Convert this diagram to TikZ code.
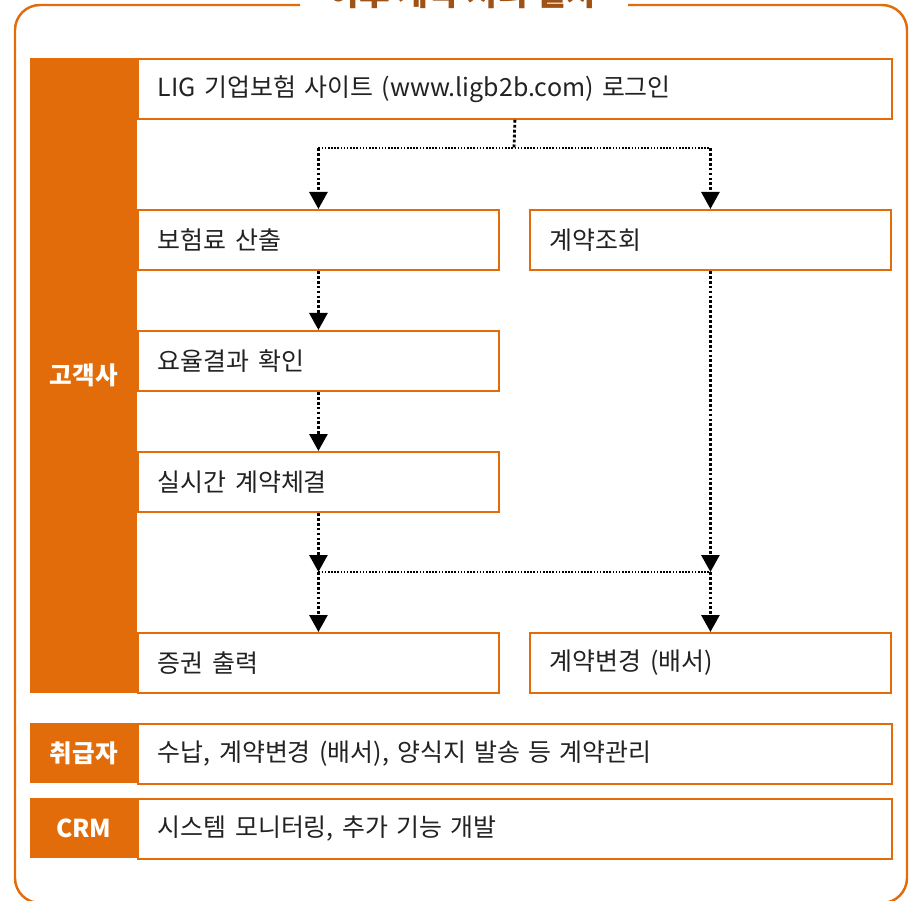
\documentclass[tikz,border=0pt]{standalone}
\usepackage{fontspec}
\setmainfont{Noto Sans CJK KR}
\usetikzlibrary{arrows.meta}
\definecolor{ligorange}{RGB}{227,108,10}
\definecolor{titlebrown}{RGB}{158,82,22}
\definecolor{textgray}{RGB}{34,34,34}
\tikzset{
  stepbox/.style={draw=ligorange, line width=1.1pt, fill=white, minimum height=1.2cm,
    inner xsep=0.4cm, inner ysep=0pt, align=left, anchor=north west, text=textgray,
    font=\fontsize{14.2}{16}\selectfont},
  widebox/.style={stepbox, text width=14.28cm},
  halfbox/.style={stepbox, text width=6.42cm},
  rolecell/.style={fill=ligorange, text=white, minimum width=2.14cm, anchor=north west,
    inner sep=0pt, font=\fontsize{14}{16}\selectfont\bfseries},
  flowarrow/.style={line width=1.6pt, dash pattern=on 1.6pt off 1.2pt,
    -{Triangle[width=0.36cm,length=0.34cm]}},
  flowline/.style={line width=0.8pt, dash pattern=on 0.9pt off 0.9pt},
  frame/.style={draw=ligorange, line width=1.4pt, rounded corners=0.5cm}
}
\begin{document}
\begin{tikzpicture}[x=0.02cm, y=-0.02cm]
  \useasboundingbox (0,0) rectangle (912,901);
  % Titel und Rahmen
  \node[anchor=base, text=titlebrown, font=\fontsize{19}{22}\selectfont\bfseries] (title) at (463,6) {이후 계약 처리 절차};
  \coordinate (gapL) at (300,5);
  \coordinate (gapR) at (628,5);
  \draw[frame] (gapL) -- (15,5) -- (15,903) -- (907,903) -- (907,5) -- (gapR);

  % Rollen
  \node[rolecell, minimum height=12.7cm] (customer) at (30,58) {고객사};
  \node[rolecell, minimum height=1.2cm] (handler) at (30,723) {취급자};
  \node[rolecell, minimum height=1.2cm] (crm) at (30,798) {CRM};

  % Schritte
  \node[widebox] (login) at (137,58) {LIG 기업보험 사이트 (www.ligb2b.com) 로그인};
  \node[halfbox] (premium) at (137,209) {보험료 산출};
  \node[halfbox] (lookup) at (529,209) {계약조회};
  \node[halfbox] (rate) at (137,330) {요율결과 확인};
  \node[halfbox] (contract) at (137,451) {실시간 계약체결};
  \node[halfbox] (print) at (137,632) {증권 출력};
  \node[halfbox] (change) at (529,632) {계약변경 (배서)};
  \node[widebox] (handlertask) at (137,723) {수납, 계약변경 (배서), 양식지 발송 등 계약관리};
  \node[widebox] (crmtask) at (137,798) {시스템 모니터링, 추가 기능 개발};

  % Pfeile
  \coordinate (split) at (514,148);
  \coordinate (merge) at (514,572);
  \draw[flowarrow, -] (login.south) -- (split);
  \draw[flowline] (premium.north |- split) -- (lookup.north |- split);
  \draw[flowarrow] (premium.north |- split) -- (premium.north);
  \draw[flowarrow] (lookup.north |- split) -- (lookup.north);
  \draw[flowarrow] (premium.south) -- (rate.north);
  \draw[flowarrow] (rate.south) -- (contract.north);
  \draw[flowarrow] (contract.south) -- (contract.south |- merge);
  \draw[flowarrow] (lookup.south) -- (lookup.south |- merge);
  \draw[flowline] (contract.south |- merge) -- (lookup.south |- merge);
  \draw[flowarrow] (print.north |- merge) -- (print.north);
  \draw[flowarrow] (change.north |- merge) -- (change.north);
\end{tikzpicture}
\end{document}
